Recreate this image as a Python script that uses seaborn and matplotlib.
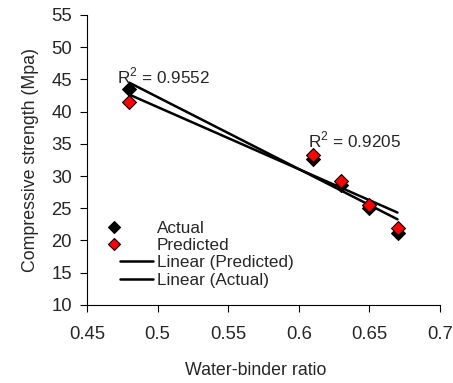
import matplotlib
matplotlib.use("Agg")
import matplotlib.pyplot as plt
from matplotlib.lines import Line2D
from matplotlib.legend_handler import HandlerLine2D
import seaborn as sns
import numpy as np
import pandas as pd

wb_ratio = [0.48, 0.61, 0.63, 0.65, 0.67]
actual = [43.5, 32.7, 28.6, 25.0, 21.2]
predicted = [41.5, 33.2, 29.3, 25.5, 22.0]
x_ticks = [0.45, 0.5, 0.55, 0.6, 0.65, 0.7]
y_ticks = [10, 15, 20, 25, 30, 35, 40, 45, 50, 55]
r2_labels = ["R$^2$ = 0.9552", "R$^2$ = 0.9205"]

sns.set_style("ticks")
plt.rcParams['font.family'] = ['Liberation Sans', 'DejaVu Sans']
plt.rcParams['mathtext.fontset'] = 'custom'
plt.rcParams['mathtext.rm'] = 'Liberation Sans'

df = pd.DataFrame({"x": wb_ratio, "Actual": actual, "Predicted": predicted})

fig = plt.figure(figsize=(4.53, 3.83), dpi=100)
ax = fig.add_axes([0.192, 0.204, 0.779, 0.757])

sns.scatterplot(data=df, x="x", y="Actual", marker="D", color="black",
                edgecolor="black", s=50, linewidth=0.8, ax=ax, zorder=3, legend=False)
sns.scatterplot(data=df, x="x", y="Predicted", marker="D", color="red",
                edgecolor="black", s=50, linewidth=0.8, ax=ax, zorder=4, legend=False)
sns.regplot(data=df, x="x", y="Predicted", scatter=False, ci=None, color="black",
            line_kws={"linewidth": 1.8}, ax=ax, truncate=True)
sns.regplot(data=df, x="x", y="Actual", scatter=False, ci=None, color="black",
            line_kws={"linewidth": 1.8}, ax=ax, truncate=True)

ax.text(0.4713, 44.45, r2_labels[0], fontsize=12.3, va="baseline")
ax.text(0.6067, 34.5, r2_labels[1], fontsize=12.3, va="baseline")

ax.set_xlim(0.45, 0.7)
ax.set_ylim(10, 55)
ax.set_xticks(x_ticks)
ax.set_xticklabels([f"{t:g}" for t in x_ticks])
ax.set_yticks(y_ticks)
ax.tick_params(axis="both", labelsize=13.3, length=5, width=0.8, direction="out", color="black")
ax.tick_params(axis="x", pad=10.5)
ax.tick_params(axis="y", pad=5.8)
ax.set_xlabel("Water-binder ratio", fontsize=12.8)
ax.xaxis.set_label_coords(0.479, -0.197)
ax.set_ylabel("Compressive strength (Mpa)", fontsize=12.8, labelpad=9)
for s in ["top", "right"]:
    ax.spines[s].set_visible(False)
for s in ["left", "bottom"]:
    ax.spines[s].set_linewidth(0.8)
    ax.spines[s].set_color("black")


class LeftMarker(HandlerLine2D):
    def create_artists(self, legend, orig_handle, xdescent, ydescent, width, height, fontsize, trans):
        arts = super().create_artists(legend, orig_handle, xdescent, ydescent, width, height, fontsize, trans)
        for a in arts:
            xd = np.asarray(a.get_xdata(), dtype=float)
            a.set_xdata(xd - 16.5)
        return arts


handles = [
    Line2D([], [], marker="D", linestyle="none", color="black", markeredgecolor="black",
           markersize=6.5, markeredgewidth=0.8),
    Line2D([], [], marker="D", linestyle="none", color="red", markeredgecolor="black",
           markersize=6.5, markeredgewidth=0.8),
    Line2D([], [], color="black", linewidth=1.8),
    Line2D([], [], color="black", linewidth=1.8),
]
labels = ["Actual", "Predicted", "Linear (Predicted)", "Linear (Actual)"]
lm = LeftMarker(numpoints=1)
leg = fig.legend(handles, labels, loc="upper left", bbox_to_anchor=(120 / 453, 1 - 220.5 / 383),
                 bbox_transform=fig.transFigure, frameon=False, fontsize=12.3,
                 handlelength=1.94, handletextpad=0.2, labelspacing=0.14,
                 borderpad=0, borderaxespad=0,
                 handler_map={handles[0]: lm, handles[1]: lm})

fig.savefig("out.png", dpi=100)
